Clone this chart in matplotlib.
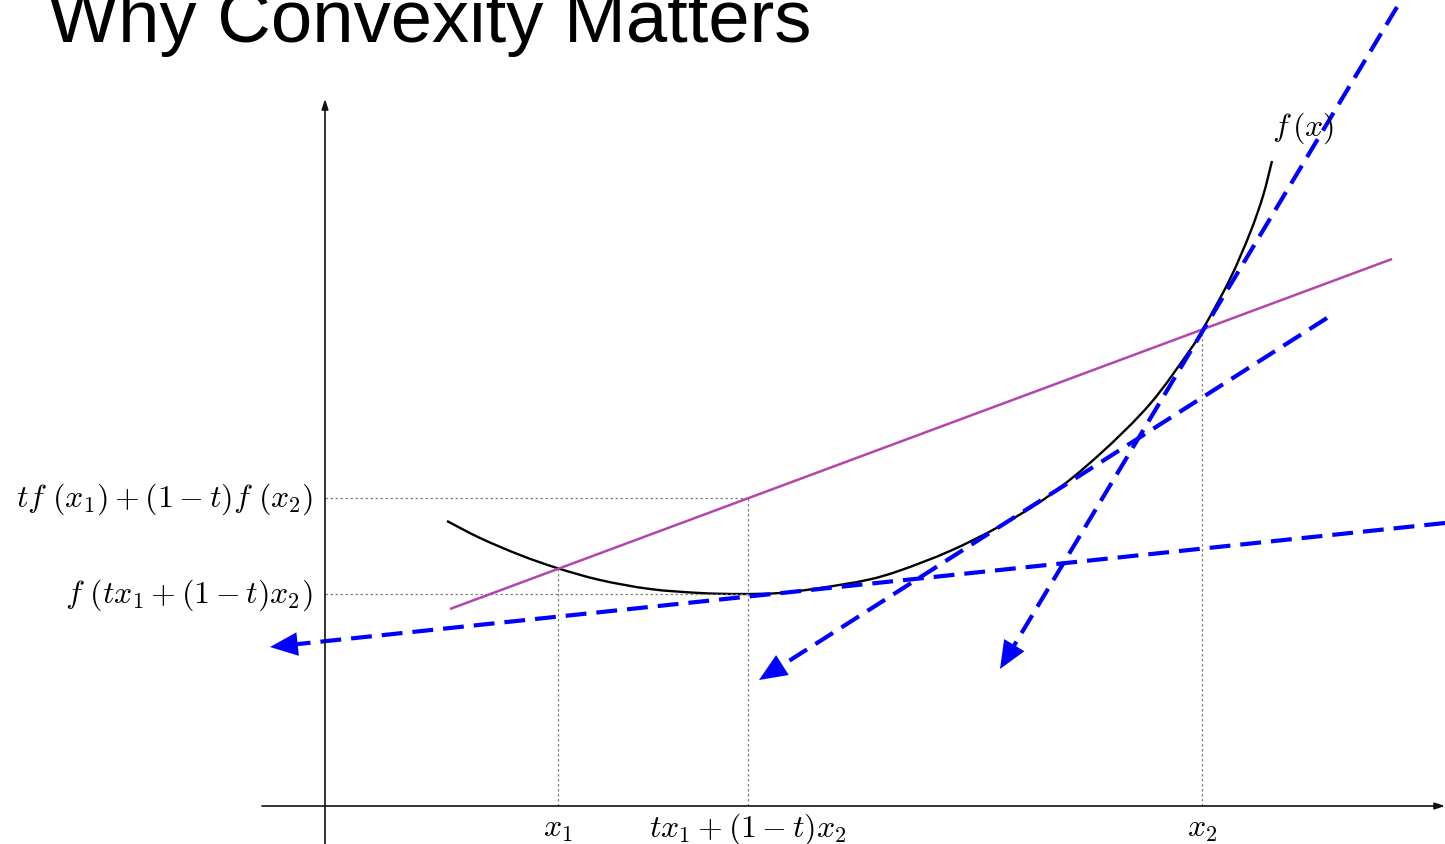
import matplotlib
matplotlib.use('Agg')
import matplotlib.pyplot as plt
from matplotlib.path import Path
from matplotlib.patches import PathPatch

plt.rcParams['mathtext.fontset'] = 'cm'

# Convex function f(x) (origin at the axes crossing)
curve_x = [122, 155, 195, 232, 275, 325, 375, 415, 455, 495, 542, 575, 625,
           675, 725, 775, 825, 865, 878, 905, 925, 938, 947]
curve_y = [285, 268, 251, 238, 226, 217, 213, 212, 213, 218, 226, 235.5, 255,
           280, 311, 352, 402, 456, 477, 527, 573, 610, 645]

# chord between (x1, f(x1)) and (x2, f(x2)), extended
chord_x = [125, 1067]
chord_y = [197, 547]

# points on the x axis and the two levels
x1 = 233
x_mix = 423
x2 = 877
f_x1 = 237
f_x2 = 477
f_mix = 212
chord_mix = 308

# tangent lines: start point and arrow tip
tangent_start = [(1120, 283), (1002, 488), (1072, 799)]
tangent_tip = [(-55, 159), (434, 126), (675, 137)]

tick_labels = [r'$x_1$', r'$tx_1+(1-t)x_2$', r'$x_2$']
level_labels = [r'$tf\ (x_1)+(1-t)f\ (x_2)$', r'$f\ (tx_1+(1-t)x_2)$']


def smooth_path(xs, ys):
    # cubic Bezier pieces through the read points (Catmull-Rom style)
    pts = list(zip(xs, ys))
    verts = [pts[0]]
    codes = [Path.MOVETO]
    for i in range(len(pts) - 1):
        p0 = pts[i - 1] if i > 0 else pts[i]
        p1 = pts[i]
        p2 = pts[i + 1]
        p3 = pts[i + 2] if i + 2 < len(pts) else pts[i + 1]
        c1 = (p1[0] + (p2[0] - p0[0]) / 6, p1[1] + (p2[1] - p0[1]) / 6)
        c2 = (p2[0] - (p3[0] - p1[0]) / 6, p2[1] - (p3[1] - p1[1]) / 6)
        verts += [c1, c2, p2]
        codes += [Path.CURVE4] * 3
    return Path(verts, codes)


fig = plt.figure(figsize=(14.45, 8.45), dpi=100)
ax = fig.add_axes([0, 0, 1, 1])
ax.set_xlim(-325, 1120)
ax.set_ylim(-38, 807)
ax.axis('off')

# axes with arrows
ax.annotate('', xy=(1120, 0), xytext=(-63, 0),
            arrowprops=dict(arrowstyle='-|>,head_length=0.6,head_width=0.2',
                            color='#111111', lw=1.2, shrinkA=0, shrinkB=0))
ax.annotate('', xy=(0, 707), xytext=(0, -38),
            arrowprops=dict(arrowstyle='-|>,head_length=0.6,head_width=0.2',
                            color='#111111', lw=1.2, shrinkA=0, shrinkB=0))

# dotted guides
guide = dict(color='#808080', lw=0.9, linestyle=(0, (2, 2)))
ax.plot([0, x_mix], [chord_mix, chord_mix], **guide)
ax.plot([0, x_mix], [f_mix, f_mix], **guide)
ax.plot([x1, x1], [0, f_x1], **guide)
ax.plot([x_mix, x_mix], [0, chord_mix], **guide)
ax.plot([x2, x2], [0, f_x2], **guide)

# chord and curve
ax.plot(chord_x, chord_y, color='#B545A8', lw=1.8, solid_capstyle='butt')
ax.add_patch(PathPatch(smooth_path(curve_x, curve_y), fill=False,
                       edgecolor='black', lw=1.7))

# tangent lines, dashed blue with arrow heads
for (sx, sy), (tx, ty) in zip(tangent_start, tangent_tip):
    dx, dy = tx - sx, ty - sy
    n = (dx ** 2 + dy ** 2) ** 0.5
    bx, by = tx - dx / n * 22, ty - dy / n * 22
    ax.plot([sx, bx], [sy, by], color='blue', lw=3.0,
            linestyle=(0, (5, 2.4)), solid_capstyle='butt')
    ax.annotate('', xy=(tx, ty), xytext=(bx, by),
                arrowprops=dict(arrowstyle='-|>,head_length=2.0,head_width=0.85',
                                mutation_scale=10, color='blue', lw=0,
                                shrinkA=0, shrinkB=0))

# labels
ax.text(-12, chord_mix, level_labels[0], ha='right', va='center', fontsize=23)
ax.text(-12, f_mix, level_labels[1], ha='right', va='center', fontsize=23)
for xv, lab in zip([x1, x_mix, x2], tick_labels):
    ax.text(xv, -22, lab, ha='center', va='center', fontsize=23)
ax.text(978, 679, r'$f\,(x)$', ha='center', va='center', fontsize=23)

ax.text(-277, 765, 'Why Convexity Matters', fontsize=53.5,
        family='Liberation Sans', ha='left', va='baseline')

fig.savefig('out.png', dpi=100)
